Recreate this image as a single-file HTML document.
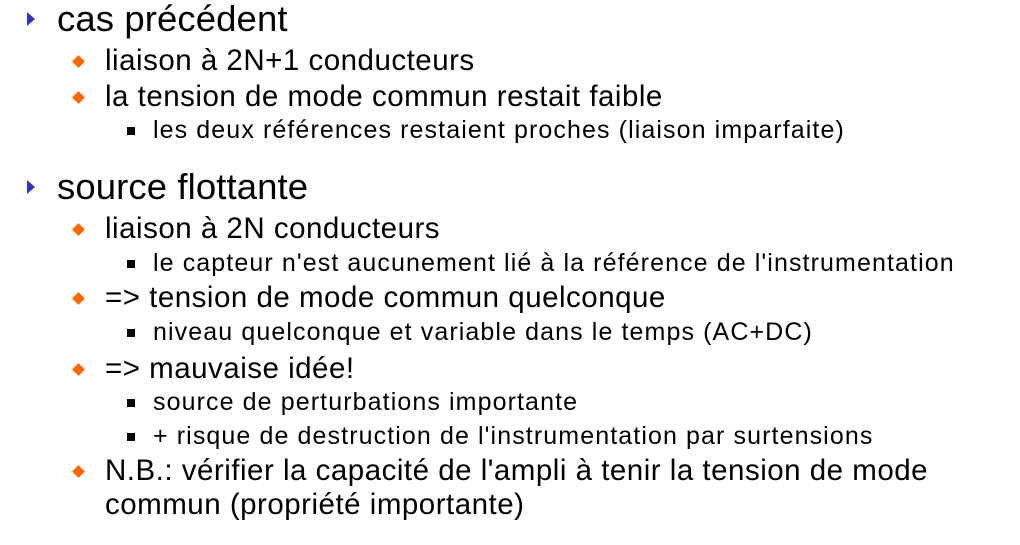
<!DOCTYPE html>
<html><head><meta charset="utf-8"><style>
body{margin:0;width:1020px;height:545px;background:#fff;position:relative;overflow:hidden;font-family:"Liberation Sans",Arial,sans-serif;color:#000}
.t{position:absolute;white-space:nowrap;line-height:1}
.l1{left:57px;font-size:36.5px;letter-spacing:0.1px}
.l2{left:105px;font-size:29.5px;letter-spacing:0.5px}
.l3{left:153px;font-size:25px;letter-spacing:1.1px}
.tri{position:absolute;left:27px;width:0;height:0;border-top:7px solid transparent;border-bottom:7px solid transparent;border-left:8px solid #3333cc}
.dia{position:absolute;left:74px;width:9px;height:9px;background:#ff6600;transform:rotate(45deg)}
.sq{position:absolute;left:127px;width:8px;height:8px;background:#000}
</style></head><body>
<div class="tri" style="top:12px"></div><div class="t l1" style="top:1px">cas précédent</div>
<div class="dia" style="top:57px"></div><div class="t l2" style="top:46px">liaison à 2N+1 conducteurs</div>
<div class="dia" style="top:93px"></div><div class="t l2" style="top:82px">la tension de mode commun restait faible</div>
<div class="sq" style="top:127px"></div><div class="t l3" style="top:118px">les deux références restaient proches (liaison imparfaite)</div>
<div class="tri" style="top:180px"></div><div class="t l1" style="top:169px">source flottante</div>
<div class="dia" style="top:225px"></div><div class="t l2" style="top:214px">liaison à 2N conducteurs</div>
<div class="sq" style="top:260px"></div><div class="t l3" style="top:251px">le capteur n'est aucunement lié à la référence de l'instrumentation</div>
<div class="dia" style="top:294px"></div><div class="t l2" style="top:283px">=&gt; tension de mode commun quelconque</div>
<div class="sq" style="top:329px"></div><div class="t l3" style="top:320px">niveau quelconque et variable dans le temps (AC+DC)</div>
<div class="dia" style="top:365px"></div><div class="t l2" style="top:354px">=&gt; mauvaise idée!</div>
<div class="sq" style="top:399px"></div><div class="t l3" style="top:390px">source de perturbations importante</div>
<div class="sq" style="top:433px"></div><div class="t l3" style="top:424px">+ risque de destruction de l'instrumentation par surtensions</div>
<div class="dia" style="top:467px"></div><div class="t l2" style="top:456px">N.B.: vérifier la capacité de l'ampli à tenir la tension de mode</div>
<div class="t l2" style="top:490px">commun (propriété importante)</div>
</body></html>
